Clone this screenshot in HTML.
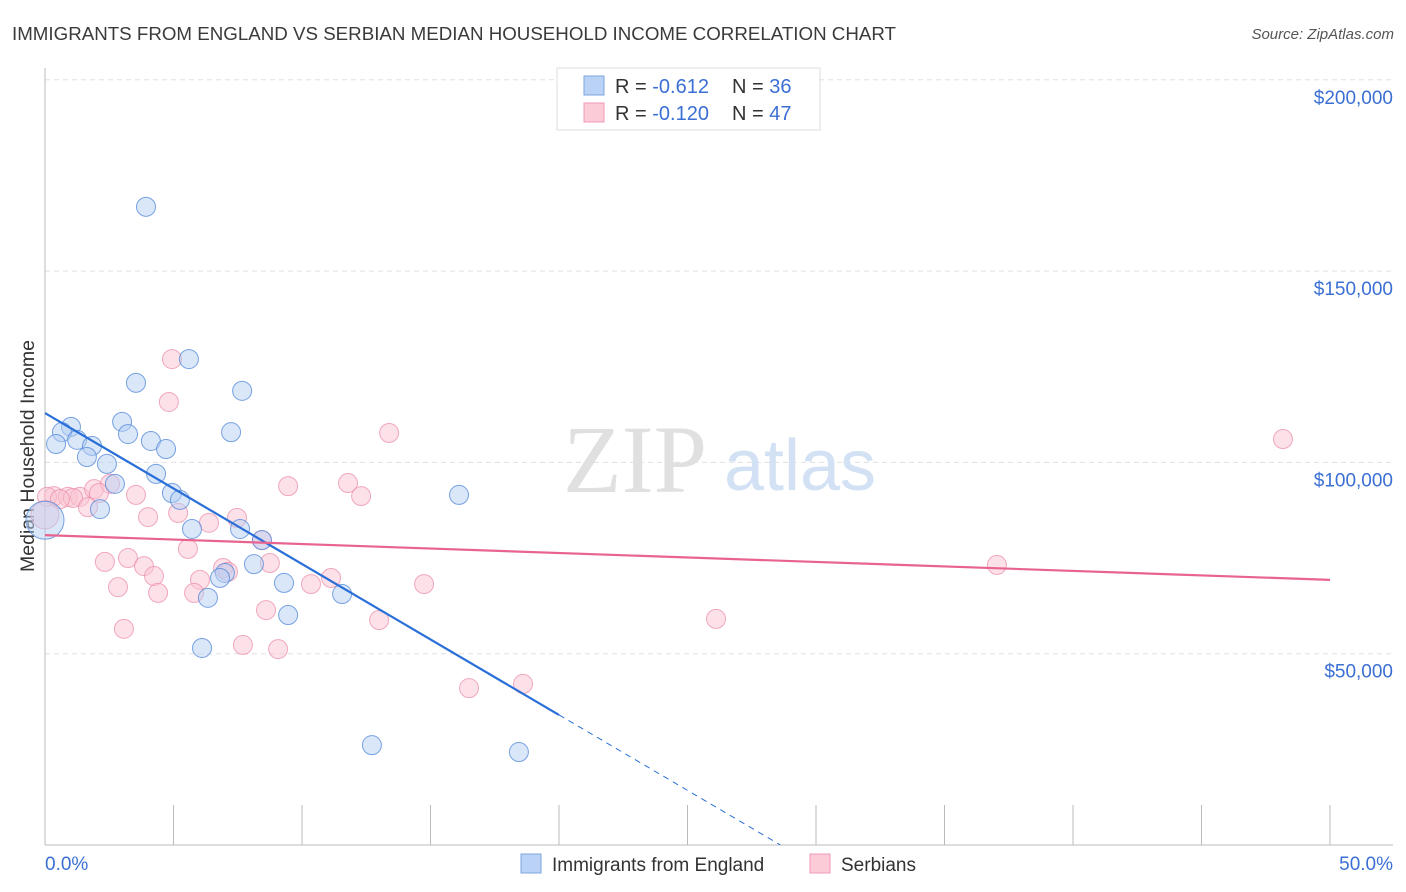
<!DOCTYPE html>
<html><head><meta charset="utf-8"><style>
body{margin:0;background:#fff;font-family:"Liberation Sans",sans-serif;}
svg{display:block}
</style></head><body>
<svg id="chart" width="1406" height="892">
<text x="12" y="40" font-size="18" fill="#3a3a3a" textLength="884" lengthAdjust="spacingAndGlyphs">IMMIGRANTS FROM ENGLAND VS SERBIAN MEDIAN HOUSEHOLD INCOME CORRELATION CHART</text>
<text x="1394" y="39" font-size="15" fill="#555" font-style="italic" text-anchor="end">Source: ZipAtlas.com</text>
<text x="34" y="456" font-size="19.5" fill="#333" text-anchor="middle" transform="rotate(-90 34 456)">Median Household Income</text>
<g id="grid"></g>
<text x="635" y="492" font-size="96" fill="#e0e0e0" font-family="Liberation Serif,serif" text-anchor="middle">ZIP</text>
<text x="800" y="490" font-size="72" fill="#d3e1f4" text-anchor="middle">atlas</text>
<g id="marks"></g>
<g>
<rect x="557" y="68" width="263" height="62" fill="#fff" stroke="#ddd"/>
<rect x="584" y="76" width="20" height="19" fill="#b9d2f5" stroke="#7ea6e0"/>
<rect x="584" y="103" width="20" height="19" fill="#fbcbd8" stroke="#f09ab4"/>
<text x="615" y="93" font-size="20" fill="#333">R = <tspan fill="#3b6fd4">-0.612</tspan><tspan x="732">N = </tspan><tspan fill="#3b6fd4">36</tspan></text>
<text x="615" y="120" font-size="20" fill="#333">R = <tspan fill="#3b6fd4">-0.120</tspan><tspan x="732">N = </tspan><tspan fill="#3b6fd4">47</tspan></text>
</g>
<g>
<rect x="521" y="854" width="20" height="19" fill="#b9d2f5" stroke="#7ea6e0"/>
<text x="552" y="871" font-size="19" fill="#333">Immigrants from England</text>
<rect x="810" y="854" width="20" height="19" fill="#fbcbd8" stroke="#f09ab4"/>
<text x="841" y="871" font-size="19" fill="#333">Serbians</text>
</g>
</svg>
<script>
const yTicks=[50000,100000,150000,200000];
const yTickLabels=["$50,000","$100,000","$150,000","$200,000"];
const xTickVals=[0,5,10,15,20,25,30,35,40,45,50];
const xEndLabels=["0.0%","50.0%"];
const englandX=[3.93,5.60,3.54,7.67,3.00,1.01,0.66,7.24,3.23,0.43,1.25,4.12,1.83,4.71,1.63,2.41,4.32,2.72,4.94,5.25,16.11,2.14,5.72,7.59,8.44,8.13,7.00,6.81,9.30,11.56,6.34,9.46,6.11,12.72,18.44,0];
const englandY=[166800,127000,120800,118700,110600,109300,107900,107900,107400,104800,105900,105600,104300,103500,101400,99600,97000,94400,92000,90200,91500,87800,82600,82600,79700,73400,71100,69800,68500,65600,64600,60100,51500,26100,24300,84900];
const serbX=[4.94,4.82,13.39,48.17,0.35,0.08,0.89,1.36,1.09,0.58,1.91,2.53,2.10,3.54,1.67,4.01,5.18,6.38,7.47,9.46,11.79,12.30,8.44,2.33,3.23,3.85,4.24,5.56,6.03,6.93,7.12,8.75,11.13,10.35,14.75,37.04,2.84,4.40,5.80,8.60,13.00,26.11,3.07,7.70,9.07,16.50,18.60,0];
const serbY=[127000,115800,107700,106100,91200,91000,91000,91000,90700,90400,93000,94400,92000,91500,88300,85700,86800,84200,85500,93800,94600,91200,79700,74000,75000,72900,70300,77400,69300,72400,71400,73700,69800,68200,68200,73200,67400,65900,65900,61400,58800,59100,56500,52300,51200,41000,42100,86300];
const englandLine=[112900,-3945];
const serbLine=[81000,-234];
const NS="http://www.w3.org/2000/svg";
const X0=45,X1=1330,YB=845,PPD=191.3/50000;
const sx=v=>X0+(v/50)*(X1-X0);
const sy=v=>YB-v*PPD;
function mk(tag,attrs,parent){const e=document.createElementNS(NS,tag);for(const k in attrs)e.setAttribute(k,attrs[k]);parent.appendChild(e);return e;}
const grid=document.getElementById('grid');
const marks=document.getElementById('marks');
yTicks.forEach((t,i)=>{
 const l=mk('line',{x1:45,x2:1393,y1:sy(t),y2:sy(t),stroke:'#e0e0e0','stroke-dasharray':'5,4'},grid);
 
 
 const tx=mk('text',{x:1393,y:sy(t)+24,'text-anchor':'end','font-size':19,fill:'#3b6fd4'},grid);
 tx.textContent=yTickLabels[i];
 
 
});
const ax=mk('line',{x1:45,x2:45,y1:68,y2:845,stroke:'#bbb'},grid);


const bx=mk('line',{x1:45,x2:1393,y1:845,y2:845,stroke:'#bbb'},grid);


xTickVals.forEach(v=>{
 const t=mk('line',{x1:sx(v),x2:sx(v),y1:805,y2:845,stroke:'#bbb'},grid);
 
 
});
const xl0=mk('text',{x:45,y:870,'font-size':19,fill:'#3b6fd4'},grid);xl0.textContent=xEndLabels[0];


const xl1=mk('text',{x:1393,y:870,'font-size':19,fill:'#3b6fd4','text-anchor':'end'},grid);xl1.textContent=xEndLabels[1];


function dots(xs,ys,fill,stroke,name,bigR){
 xs.forEach((x,i)=>{
  const big=(x===0);
  const c=mk('circle',{cx:sx(x),cy:sy(ys[i]),r:big?bigR:9.5,fill:fill,'fill-opacity':0.5,stroke:stroke,'stroke-opacity':0.75,'stroke-width':1},marks);
  
  
 });
}
dots(serbX,serbY,'#f9c3d2','#ec8fab','serbian-point',14);
dots(englandX,englandY,'#b5cff3','#4f86d8','england-point',19);
const ly=x=>englandLine[0]+englandLine[1]*x;
const l1=mk('line',{x1:sx(0),y1:sy(ly(0)),x2:sx(20),y2:sy(ly(20)),stroke:'#2a6fd8','stroke-width':2.2},marks);


const xz=-englandLine[0]/englandLine[1];
const l2=mk('line',{x1:sx(20),y1:sy(ly(20)),x2:sx(xz),y2:sy(0),stroke:'#2a6fd8','stroke-width':1,'stroke-dasharray':'6,5'},marks);


const ps=x=>serbLine[0]+serbLine[1]*x;
const l3=mk('line',{x1:sx(0),y1:sy(ps(0)),x2:sx(50),y2:sy(ps(50)),stroke:'#e8648f','stroke-width':2.2},marks);


</script>
</body></html>
